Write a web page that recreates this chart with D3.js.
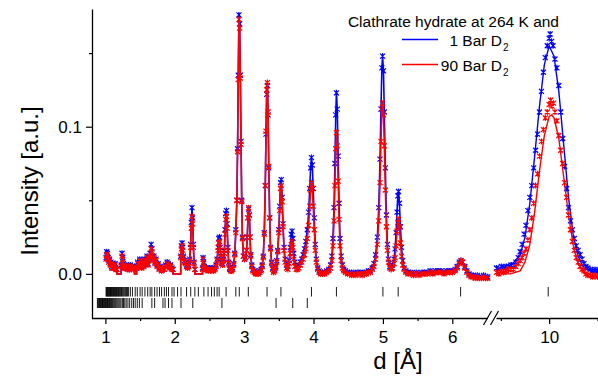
<!DOCTYPE html>
<html>
<head>
<meta charset="utf-8">
<script src="https://cdn.jsdelivr.net/npm/d3@7"></script>
<style>
  body { margin: 0; background: #fff; }
  svg { display: block; font-family: "Liberation Sans", Arial, sans-serif; }
</style>
</head>
<body>
<svg id="chart"></svg>
<script>
// observed points, 1 bar D2 (d in Å, intensity a.u.)
const blueObs = [
  [1.010,0.011],[1.020,0.015],[1.030,0.014],[1.040,0.011],[1.050,0.009],[1.060,0.010],[1.070,0.007],[1.080,0.008],
  [1.090,0.005],[1.100,0.007],[1.110,0.004],[1.120,0.006],[1.130,0.005],[1.140,0.007],[1.150,0.004],[1.165,0.003],
  [1.227,0.006],[1.240,0.014],[1.250,0.011],[1.260,0.007],[1.270,0.005],[1.285,0.004],[1.300,0.006],[1.315,0.004],
  [1.330,0.005],[1.345,0.003],[1.360,0.006],[1.375,0.004],[1.390,0.005],[1.405,0.004],[1.420,0.005],
  [1.450,0.004],[1.465,0.008],[1.480,0.006],[1.495,0.010],[1.510,0.007],[1.525,0.005],[1.540,0.009],[1.555,0.006],
  [1.570,0.010],[1.585,0.008],[1.600,0.012],[1.615,0.007],[1.630,0.011],[1.645,0.014],[1.660,0.020],[1.672,0.017],
  [1.685,0.010],[1.700,0.012],[1.715,0.008],[1.730,0.010],[1.745,0.006],[1.760,0.007],[1.775,0.004],[1.790,0.005],
  [1.810,0.003],[1.830,0.004],[1.850,0.003],[1.870,0.006],[1.890,0.008],[1.905,0.007],[1.920,0.005],[1.940,0.006],
  [1.960,0.004],[1.975,0.003],
  [2.086,0.012],[2.095,0.019],[2.105,0.021],[2.115,0.018],[2.125,0.012],[2.140,0.009],[2.155,0.008],[2.170,0.006],
  [2.185,0.005],[2.200,0.006],[2.215,0.010],[2.228,0.020],[2.238,0.035],[2.248,0.045],[2.258,0.038],[2.268,0.020],
  [2.278,0.008],[2.290,0.003],
  [2.400,0.004],[2.408,0.011],[2.415,0.008],[2.425,0.005],[2.440,0.003],[2.460,0.004],[2.480,0.003],[2.500,0.004],
  [2.520,0.003],[2.540,0.004],[2.560,0.003],[2.580,0.004],[2.595,0.006],[2.610,0.010],[2.625,0.018],[2.635,0.024],
  [2.645,0.025],[2.655,0.018],[2.665,0.012],[2.675,0.008],[2.690,0.007],[2.705,0.010],[2.715,0.016],[2.725,0.030],
  [2.735,0.041],[2.745,0.043],[2.755,0.034],[2.765,0.018],[2.778,0.008],[2.790,0.004],[2.805,0.003],[2.820,0.003],
  [2.835,0.004],[2.850,0.007],[2.865,0.014],[2.880,0.030],[2.895,0.050],[2.905,0.085],[2.915,0.135],[2.925,0.176],
  [2.935,0.170],[2.945,0.135],[2.955,0.090],[2.965,0.050],[2.975,0.025],[2.990,0.012],[3.005,0.010],[3.020,0.011],
  [3.035,0.016],[3.045,0.025],[3.055,0.038],[3.065,0.044],[3.075,0.040],[3.085,0.025],[3.095,0.013],[3.110,0.006],
  [3.125,0.003],[3.145,0.002],[3.165,0.001],[3.185,0.001],[3.205,0.001],[3.225,0.002],[3.245,0.003],[3.260,0.006],
  [3.275,0.012],[3.290,0.028],[3.305,0.060],[3.315,0.095],[3.325,0.122],[3.335,0.128],[3.345,0.108],[3.355,0.072],
  [3.368,0.038],[3.380,0.018],[3.395,0.008],[3.410,0.004],[3.425,0.002],[3.440,0.003],[3.455,0.005],[3.470,0.009],
  [3.485,0.016],[3.500,0.030],[3.512,0.046],[3.525,0.062],[3.535,0.064],[3.548,0.052],[3.560,0.034],[3.575,0.018],
  [3.590,0.010],[3.610,0.006],[3.630,0.005],[3.650,0.009],[3.665,0.018],[3.678,0.027],[3.690,0.029],[3.702,0.024],
  [3.715,0.014],[3.730,0.008],[3.750,0.005],[3.770,0.005],[3.790,0.006],[3.810,0.008],[3.830,0.010],[3.850,0.013],
  [3.870,0.017],[3.890,0.022],[3.910,0.030],[3.930,0.042],[3.945,0.058],[3.958,0.072],[3.970,0.079],[3.982,0.074],
  [3.995,0.058],[4.010,0.038],[4.025,0.020],[4.040,0.010],[4.060,0.004],[4.080,0.002],[4.100,0.001],[4.130,0.001],
  [4.160,0.001],[4.190,0.002],[4.220,0.003],[4.245,0.006],[4.265,0.012],[4.280,0.024],[4.295,0.045],[4.308,0.075],
  [4.320,0.108],[4.330,0.123],[4.342,0.112],[4.355,0.080],[4.368,0.048],[4.382,0.024],[4.398,0.012],[4.415,0.006],
  [4.435,0.003],[4.460,0.002],[4.490,0.001],[4.520,0.001],[4.550,0.000],[4.580,0.001],[4.610,0.000],[4.640,0.001],
  [4.670,0.001],[4.700,0.000],[4.730,0.001],[4.760,0.001],[4.790,0.002],[4.820,0.002],[4.845,0.004],[4.870,0.007],
  [4.895,0.013],[4.920,0.025],[4.940,0.045],[4.958,0.078],[4.972,0.112],[4.985,0.140],[4.995,0.148],[5.008,0.138],
  [5.020,0.110],[5.035,0.072],[5.050,0.040],[5.065,0.020],[5.080,0.010],[5.100,0.005],[5.120,0.004],[5.140,0.006],
  [5.160,0.010],[5.175,0.017],[5.190,0.028],[5.203,0.042],[5.215,0.053],[5.225,0.056],[5.238,0.048],[5.252,0.032],
  [5.268,0.018],[5.285,0.009],[5.305,0.004],[5.330,0.002],[5.360,0.001],[5.400,0.001],[5.440,0.000],[5.480,0.001],
  [5.520,0.000],[5.560,0.001],[5.600,0.001],[5.640,0.001],[5.680,0.002],[5.720,0.001],[5.760,0.002],[5.800,0.002],
  [5.840,0.002],[5.880,0.001],[5.920,0.002],[5.960,0.002],[6.000,0.002],[6.040,0.003],[6.070,0.005],[6.100,0.008],
  [6.125,0.009],[6.150,0.008],[6.180,0.005],[6.210,0.002],[6.240,0.000],[6.270,-0.001],[6.300,-0.001],[6.330,-0.002],
  [6.360,-0.001],[6.390,-0.002],[6.420,-0.002],[6.450,-0.001],[6.480,-0.002],[6.510,-0.002],
  [8.91,0.004],[8.96,0.003],[9.01,0.005],[9.06,0.004],[9.11,0.005],[9.16,0.005],[9.21,0.006],[9.26,0.006],
  [9.31,0.008],[9.36,0.011],[9.40,0.015],[9.44,0.020],[9.48,0.027],[9.52,0.033],[9.56,0.043],[9.60,0.052],
  [9.64,0.060],[9.68,0.072],[9.72,0.084],[9.76,0.095],[9.80,0.110],[9.84,0.124],[9.88,0.137],[9.92,0.147],
  [9.96,0.155],[10.00,0.160],[10.02,0.163],[10.05,0.158],[10.08,0.155],[10.12,0.146],[10.16,0.140],[10.20,0.128],
  [10.24,0.110],[10.28,0.092],[10.32,0.073],[10.36,0.058],[10.40,0.045],[10.44,0.036],[10.48,0.030],[10.52,0.024],
  [10.56,0.019],[10.60,0.016],[10.64,0.013],[10.68,0.010],[10.72,0.007],[10.76,0.005],[10.80,0.004],[10.85,0.003],
  [10.90,0.002],[10.95,0.003],[11.00,0.002]
]

// observed points, 90 bar D2
const redObs = [
  [1.010,0.010],[1.020,0.013],[1.030,0.012],[1.040,0.010],[1.050,0.008],[1.060,0.009],[1.070,0.006],[1.080,0.007],
  [1.090,0.004],[1.100,0.006],[1.110,0.004],[1.120,0.005],[1.130,0.004],[1.140,0.006],[1.150,0.003],[1.165,0.003],
  [1.227,0.005],[1.240,0.012],[1.250,0.010],[1.260,0.006],[1.270,0.004],[1.285,0.004],[1.300,0.005],[1.315,0.003],
  [1.330,0.005],[1.345,0.003],[1.360,0.005],[1.375,0.003],[1.390,0.004],[1.405,0.003],[1.420,0.004],
  [1.450,0.004],[1.465,0.007],[1.480,0.005],[1.495,0.009],[1.510,0.006],[1.525,0.004],[1.540,0.008],[1.555,0.005],
  [1.570,0.009],[1.585,0.007],[1.600,0.011],[1.615,0.006],[1.630,0.010],[1.645,0.012],[1.660,0.017],[1.672,0.015],
  [1.685,0.009],[1.700,0.011],[1.715,0.007],[1.730,0.009],[1.745,0.005],[1.760,0.006],[1.775,0.003],[1.790,0.004],
  [1.810,0.002],[1.830,0.003],[1.850,0.003],[1.870,0.005],[1.890,0.007],[1.905,0.006],[1.920,0.004],[1.940,0.005],
  [1.960,0.003],[1.975,0.003],
  [2.086,0.011],[2.095,0.017],[2.105,0.019],[2.115,0.016],[2.125,0.011],[2.140,0.008],[2.155,0.007],[2.170,0.005],
  [2.185,0.004],[2.200,0.005],[2.215,0.009],[2.228,0.018],[2.238,0.031],[2.248,0.039],[2.258,0.034],[2.268,0.018],
  [2.278,0.007],[2.290,0.003],
  [2.400,0.003],[2.408,0.010],[2.415,0.007],[2.425,0.004],[2.440,0.003],[2.460,0.003],[2.480,0.002],[2.500,0.003],
  [2.520,0.002],[2.540,0.003],[2.560,0.002],[2.580,0.003],[2.595,0.005],[2.610,0.009],[2.625,0.016],[2.635,0.021],
  [2.645,0.022],[2.655,0.016],[2.665,0.011],[2.675,0.007],[2.690,0.006],[2.705,0.009],[2.715,0.014],[2.725,0.027],
  [2.735,0.037],[2.745,0.039],[2.755,0.031],[2.765,0.016],[2.778,0.007],[2.790,0.003],[2.805,0.002],[2.820,0.002],
  [2.835,0.003],[2.850,0.006],[2.865,0.013],[2.880,0.028],[2.895,0.050],[2.905,0.083],[2.915,0.132],[2.925,0.173],
  [2.935,0.167],[2.945,0.133],[2.955,0.088],[2.965,0.049],[2.975,0.024],[2.990,0.012],[3.005,0.010],[3.020,0.011],
  [3.035,0.016],[3.045,0.025],[3.055,0.038],[3.065,0.045],[3.075,0.040],[3.085,0.025],[3.095,0.012],[3.110,0.005],
  [3.125,0.002],[3.145,0.001],[3.165,0.000],[3.185,0.000],[3.205,0.000],[3.225,0.001],[3.245,0.002],[3.260,0.005],
  [3.275,0.011],[3.290,0.027],[3.305,0.060],[3.315,0.097],[3.325,0.125],[3.335,0.130],[3.345,0.110],[3.355,0.073],
  [3.368,0.038],[3.380,0.017],[3.395,0.007],[3.410,0.003],[3.425,0.001],[3.440,0.002],[3.455,0.004],[3.470,0.008],
  [3.485,0.015],[3.500,0.028],[3.512,0.043],[3.525,0.058],[3.535,0.060],[3.548,0.049],[3.560,0.032],[3.575,0.016],
  [3.590,0.008],[3.610,0.004],[3.630,0.003],[3.650,0.007],[3.665,0.014],[3.678,0.020],[3.690,0.022],[3.702,0.018],
  [3.715,0.010],[3.730,0.005],[3.750,0.003],[3.770,0.003],[3.790,0.004],[3.810,0.006],[3.830,0.008],[3.850,0.010],
  [3.870,0.013],[3.890,0.017],[3.910,0.024],[3.930,0.033],[3.945,0.046],[3.958,0.057],[3.970,0.062],[3.982,0.058],
  [3.995,0.046],[4.010,0.030],[4.025,0.016],[4.040,0.008],[4.060,0.003],[4.080,0.001],[4.100,0.000],[4.130,0.000],
  [4.160,0.000],[4.190,0.001],[4.220,0.002],[4.245,0.004],[4.265,0.009],[4.280,0.019],[4.295,0.036],[4.308,0.060],
  [4.320,0.085],[4.330,0.096],[4.342,0.087],[4.355,0.063],[4.368,0.037],[4.382,0.019],[4.398,0.009],[4.415,0.004],
  [4.435,0.002],[4.460,0.001],[4.490,0.000],[4.520,0.000],[4.550,-0.001],[4.580,0.000],[4.610,-0.001],[4.640,0.000],
  [4.670,0.000],[4.700,-0.001],[4.730,0.000],[4.760,0.000],[4.790,0.001],[4.820,0.001],[4.845,0.003],[4.870,0.005],
  [4.895,0.010],[4.920,0.020],[4.940,0.036],[4.958,0.062],[4.972,0.090],[4.985,0.112],[4.995,0.116],[5.008,0.108],
  [5.020,0.087],[5.035,0.057],[5.050,0.032],[5.065,0.016],[5.080,0.008],[5.100,0.004],[5.120,0.003],[5.140,0.004],
  [5.160,0.007],[5.175,0.011],[5.190,0.019],[5.203,0.029],[5.215,0.035],[5.225,0.037],[5.238,0.032],[5.252,0.021],
  [5.268,0.012],[5.285,0.006],[5.305,0.003],[5.330,0.001],[5.360,0.000],[5.400,0.000],[5.440,-0.001],[5.480,0.000],
  [5.520,-0.001],[5.560,0.000],[5.600,0.000],[5.640,0.000],[5.680,0.001],[5.720,0.000],[5.760,0.001],[5.800,0.001],
  [5.840,0.001],[5.880,0.000],[5.920,0.001],[5.960,0.001],[6.000,0.001],[6.040,0.002],[6.070,0.004],[6.100,0.007],
  [6.125,0.009],[6.150,0.008],[6.180,0.004],[6.210,0.001],[6.240,-0.001],[6.270,-0.002],[6.300,-0.002],[6.330,-0.003],
  [6.360,-0.002],[6.390,-0.003],[6.420,-0.003],[6.450,-0.002],[6.480,-0.003],[6.510,-0.003],
  [8.91,0.001],[8.96,0.000],[9.01,0.002],[9.06,0.001],[9.11,0.002],[9.16,0.003],[9.21,0.003],[9.26,0.003],
  [9.31,0.005],[9.36,0.007],[9.40,0.009],[9.44,0.011],[9.48,0.014],[9.52,0.017],[9.56,0.023],[9.60,0.030],
  [9.64,0.038],[9.68,0.048],[9.72,0.060],[9.76,0.068],[9.80,0.080],[9.84,0.090],[9.88,0.098],[9.92,0.106],
  [9.96,0.110],[10.00,0.115],[10.03,0.118],[10.06,0.114],[10.09,0.116],[10.12,0.110],[10.16,0.104],[10.20,0.094],
  [10.24,0.084],[10.28,0.075],[10.32,0.062],[10.36,0.052],[10.40,0.040],[10.44,0.030],[10.48,0.022],[10.52,0.016],
  [10.56,0.011],[10.60,0.008],[10.64,0.005],[10.68,0.003],[10.72,0.002],[10.76,0.000],[10.80,-0.001],[10.85,-0.001],
  [10.90,-0.002],[10.95,-0.001],[11.00,-0.002]
]

// fitted curves of the big low-angle peak
const blueFit = [
  [8.9,0.003],[9.2,0.005],[9.4,0.013],[9.5,0.025],[9.6,0.048],[9.7,0.080],[9.8,0.114],[9.9,0.142],[10.0,0.155],
  [10.1,0.148],[10.2,0.124],[10.3,0.088],[10.4,0.052],[10.5,0.026],[10.6,0.012],[10.7,0.005],[10.85,0.002],[11.0,0.001]
]
const redFit = [
  [8.9,0.000],[9.2,0.000],[9.4,0.002],[9.5,0.008],[9.6,0.020],[9.7,0.042],[9.8,0.070],[9.9,0.094],[10.0,0.107],
  [10.05,0.108],[10.1,0.106],[10.2,0.092],[10.3,0.066],[10.4,0.040],[10.5,0.019],[10.6,0.007],[10.7,0.001],
  [10.85,-0.002],[11.0,-0.002]
]

// excluded ranges where the calculated line sits at zero
const calcGaps = [[1.165,1.227],[1.42,1.45],[1.975,2.086],[2.29,2.40]]

// reflection markers
const braggRow1 = [
  1.010,1.018,1.025,1.033,1.041,1.050,1.057,1.066,1.074,1.082,1.090,1.099,1.108,1.116,1.125,1.134,1.143,
  1.152,1.161,1.170,1.180,1.190,1.200,1.210,1.221,1.232,1.243,1.255,1.267,1.280,1.293,1.306,1.320,1.335,
  1.36,1.39,1.43,1.46,1.50,1.53,1.57,1.61,1.645,1.67,1.71,1.745,1.78,1.81,1.85,1.88,1.91,1.96,1.99,2.04,
  2.09,2.17,2.23,2.29,2.34,2.42,2.48,2.53,2.57,2.61,2.64,2.74,2.88,2.93,3.06,3.33,3.53,3.97,4.33,5.00,
  5.22,6.12,9.98
]
const braggRow2 = [
  0.885,0.895,0.905,0.914,0.923,0.932,0.941,0.950,0.958,0.967,0.976,0.985,0.994,1.003,1.012,1.021,1.031,
  1.040,1.050,1.060,1.070,1.080,1.091,1.100,1.112,1.125,1.137,1.150,1.165,1.180,1.195,1.210,1.225,1.245,
  1.262,1.280,1.300,1.325,1.350,1.380,1.405,1.43,1.46,1.49,1.53,
  1.67,1.71,1.83,1.86,1.91,1.96,2.09,2.26,2.68,3.46,3.70,3.91
]

const yTicks = [0, 0.1]
const yMinor = [0.05, 0.15]
const xTicks1 = [1, 2, 3, 4, 5, 6]
const xMinor1 = [1.5, 2.5, 3.5, 4.5, 5.5]
const xTicks2 = [10]
const xMinor2 = [9, 11]

const legendTitle = "Clathrate hydrate at 264 K and"
const seriesNames = ["1 Bar D", "90 Bar D"]
const BLUE = "#0000ff"
const RED = "#ff0000"

const width = 598
const height = 377

const svg = d3.select("#chart")
  .attr("width", width)
  .attr("height", height)
  .attr("viewBox", [0, 0, width, height])

const y = d3.scaleLinear().domain([-0.03, 0.18]).range([318, 9])
const x1 = d3.scaleLinear().domain([0.8, 6.5]).range([91.5, 487])
const x2 = d3.scaleLinear().domain([8.9, 11.0]).range([496, 597.5])
const xPos = d => d < 7.5 ? x1(d) : x2(d)

const seg1 = pts => pts.filter(p => p[0] < 7.5)

// calculated line in the first segment: through the points, dropping to zero in gaps
const withGaps = pts => {
  const zeros = calcGaps.flatMap(g => [[g[0] + 0.0001, 0], [g[1] - 0.0001, 0]])
  return seg1(pts).concat(zeros).sort((a, b) => a[0] - b[0])
}

const line = d3.line()
  .x(p => xPos(p[0]))
  .y(p => y(p[1]))

const star = "M-2.5,-2.5L2.5,2.5M-2.5,2.5L2.5,-2.5M0,-3L0,3"

const drawSeries = (obs, fit, color) => {
  const g = svg.append("g")
  g.append("path")
    .attr("d", line(withGaps(obs)))
    .attr("fill", "none")
    .attr("stroke", color)
    .attr("stroke-width", 1.6)
  g.append("path")
    .attr("d", line(fit))
    .attr("fill", "none")
    .attr("stroke", color)
    .attr("stroke-width", 1.4)
  g.append("g")
    .selectAll("path")
    .data(obs)
    .join("path")
    .attr("transform", p => `translate(${xPos(p[0])},${y(p[1])})`)
    .attr("d", star)
    .attr("fill", "none")
    .attr("stroke", color)
    .attr("stroke-width", 1.2)
}

drawSeries(blueObs, blueFit, BLUE)
drawSeries(redObs, redFit, RED)

// reflection tick rows
svg.append("g")
  .selectAll("line")
  .data(braggRow1)
  .join("line")
  .attr("x1", d => xPos(d)).attr("x2", d => xPos(d))
  .attr("y1", 287).attr("y2", 296.5)
  .attr("stroke", "#000").attr("stroke-width", 0.9)

svg.append("g")
  .selectAll("line")
  .data(braggRow2)
  .join("line")
  .attr("x1", d => xPos(d)).attr("x2", d => xPos(d))
  .attr("y1", 298).attr("y2", 308)
  .attr("stroke", "#000").attr("stroke-width", 0.9)

// axes
const styleAxis = g => {
  g.selectAll(".domain").attr("stroke", "#000").attr("stroke-width", 1.3)
  g.selectAll(".tick line").attr("stroke", "#000").attr("stroke-width", 1.2)
  g.selectAll(".tick text")
    .attr("fill", "#000")
    .attr("font-size", 17)
    .attr("font-family", "Liberation Sans, Arial, sans-serif")
}

svg.append("g")
  .attr("transform", "translate(92,0)")
  .call(d3.axisLeft(y).tickValues(yTicks).tickFormat(d3.format(".1f")).tickSize(6).tickSizeOuter(0).tickPadding(4))
  .call(styleAxis)

svg.append("g")
  .attr("transform", "translate(92,0)")
  .call(d3.axisLeft(y).tickValues(yMinor).tickFormat("").tickSize(3).tickSizeOuter(0))
  .call(g => g.select(".domain").remove())
  .call(styleAxis)

const bottom = (scale, major, minor) => {
  svg.append("g")
    .attr("transform", "translate(0,318)")
    .call(d3.axisBottom(scale).tickValues(major).tickFormat(d3.format("d")).tickSize(6).tickSizeOuter(0).tickPadding(7))
    .call(styleAxis)
  svg.append("g")
    .attr("transform", "translate(0,318)")
    .call(d3.axisBottom(scale).tickValues(minor).tickFormat("").tickSize(3).tickSizeOuter(0))
    .call(g => g.select(".domain").remove())
    .call(styleAxis)
}
bottom(x1, xTicks1, xMinor1)
bottom(x2, xTicks2, xMinor2)

// axis break
const bx = (x1.range()[1] + x2.range()[0]) / 2
svg.append("path")
  .attr("d", `M${bx - 8},325L${bx},311M${bx - 1},325L${bx + 7},311`)
  .attr("stroke", "#000")
  .attr("stroke-width", 1.2)
  .attr("fill", "none")

// axis titles
svg.append("text")
  .attr("x", 398)
  .attr("y", 369)
  .attr("text-anchor", "middle")
  .attr("font-size", 24)
  .text("d [Å]")

svg.append("text")
  .attr("transform", "translate(38,181) rotate(-90)")
  .attr("text-anchor", "middle")
  .attr("font-size", 24)
  .text("Intensity [a.u.]")

// legend
const legend = svg.append("g").attr("font-size", 15.5)
legend.append("text")
  .attr("x", 559)
  .attr("y", 27)
  .attr("text-anchor", "end")
  .text(legendTitle)

;[BLUE, RED].forEach((color, i) => {
  const ly = 39.5 + i * 25
  legend.append("line")
    .attr("x1", 402).attr("x2", 438)
    .attr("y1", ly).attr("y2", ly)
    .attr("stroke", color)
    .attr("stroke-width", 1.4)
  legend.append("text")
    .attr("x", 502)
    .attr("y", ly + 6)
    .attr("text-anchor", "end")
    .text(seriesNames[i])
  legend.append("text")
    .attr("x", 503)
    .attr("y", ly + 11)
    .attr("font-size", 10)
    .text("2")
})
</script>
</body>
</html>
